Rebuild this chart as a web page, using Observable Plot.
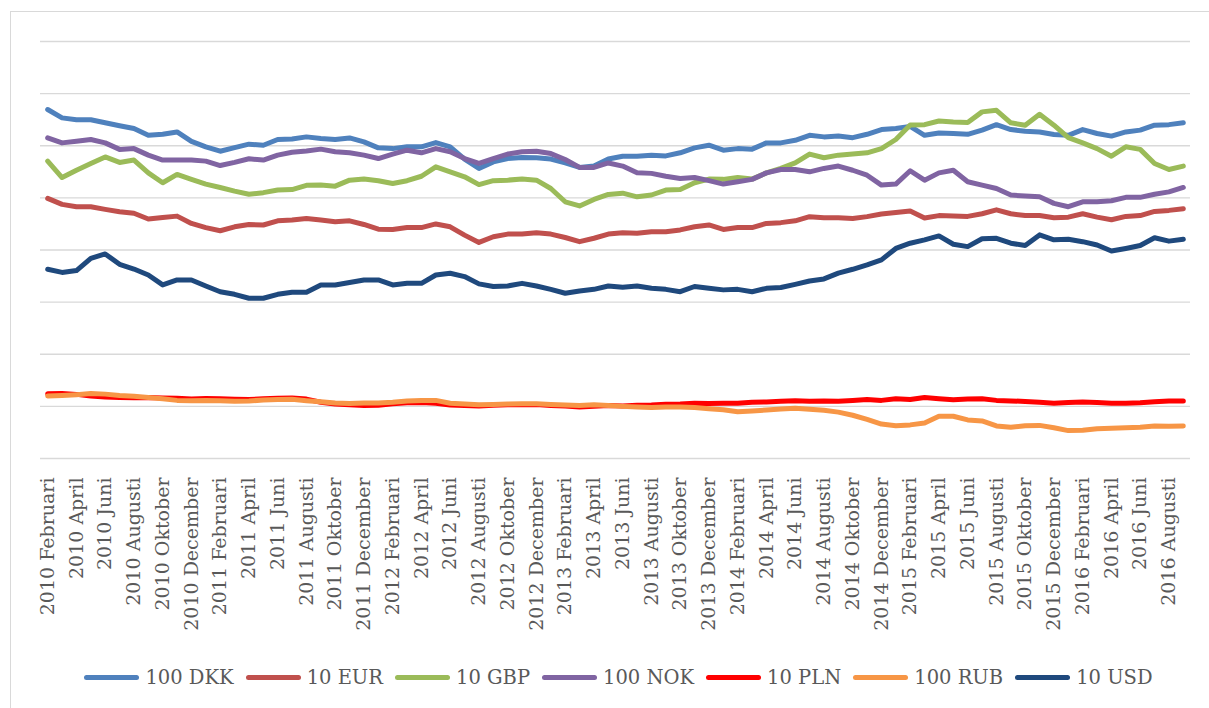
<!DOCTYPE html>
<html><head><meta charset="utf-8">
<script src="https://cdn.jsdelivr.net/npm/d3@7"></script>
<script src="https://cdn.jsdelivr.net/npm/@observablehq/plot@0.6"></script>
<style>
html,body{margin:0;padding:0;background:#fff;overflow:hidden;}
#wrap{position:relative;width:1209px;height:708px;overflow:hidden;}
#frame{position:absolute;left:10px;top:11px;width:1400px;height:900px;border:1.3px solid #d9d9d9;box-sizing:border-box;}
#chart{position:absolute;left:0;top:0;}
#legend{position:absolute;left:0;top:662px;width:1209px;height:30px;display:flex;justify-content:center;align-items:center;font-family:"DejaVu Serif";font-size:19.5px;color:#595959;padding-left:40px;box-sizing:border-box;}
.item{display:flex;align-items:center;margin-right:12px;white-space:nowrap;}
.sw{width:55px;height:5px;border-radius:2.5px;margin-right:6px;}
</style></head><body>
<div id="wrap"><div id="frame"></div><div id="chart"></div><div id="legend"></div></div>
<script>
// Categories: monthly, 2010 Februari .. 2016 September
const monthNames = ["Januari","Februari","Mars","April","Maj","Juni","Juli","Augusti","September","Oktober","November","December"];
const months = [];
for (let k = 1; k <= 80; k++) months.push(`${2010 + Math.floor(k / 12)} ${monthNames[k % 12]}`);
const tickLabels = months.filter((d, i) => i % 2 === 0);
const yTicks = [0, 20, 40, 60, 80, 100, 120, 140, 160];

const seriesNames = ["100 DKK", "10 EUR", "10 GBP", "100 NOK", "10 PLN", "100 RUB", "10 USD"];
const seriesColors = ["#4F81BD", "#C0504D", "#9BBB59", "#8064A2", "#FF0000", "#F79646", "#1F497D"];

const dkk = [133.9,130.7,130.0,130.0,128.8,127.7,126.6,124.0,124.4,125.3,121.7,119.6,117.9,119.3,120.6,120.2,122.4,122.6,123.4,122.8,
  122.4,123.0,121.5,119.2,118.9,119.6,119.6,121.2,119.6,114.9,111.3,113.8,115.1,115.5,115.4,114.9,113.4,111.7,112.2,114.9,
  116.0,116.0,116.4,116.1,117.3,119.2,120.2,118.3,118.9,118.7,121.1,121.1,122.1,124.0,123.4,123.7,123.1,124.4,126.2,126.6,
  127.4,124.0,124.9,124.7,124.4,126.0,128.1,126.2,125.6,125.3,124.3,124.0,126.2,124.7,123.7,125.3,126.0,127.9,128.1,128.8];
const eur = [99.8,97.5,96.6,96.6,95.6,94.7,94.1,91.9,92.5,93.0,90.2,88.6,87.4,88.9,89.8,89.6,91.2,91.5,92.1,91.5,
  90.8,91.2,89.8,88.0,87.9,88.6,88.6,90.0,88.9,85.7,82.9,85.1,86.1,86.1,86.6,86.1,84.8,83.2,84.5,86.1,
  86.6,86.4,87.0,87.0,87.7,88.9,89.6,87.9,88.6,88.6,90.2,90.5,91.2,92.8,92.4,92.4,92.1,92.8,93.8,94.4,
  95.0,92.3,93.2,93.0,92.9,93.9,95.4,93.9,93.2,93.2,92.4,92.6,93.9,92.6,91.6,92.9,93.2,94.8,95.2,95.8];
const gbp = [114.1,107.8,110.6,113.2,115.7,113.6,114.5,109.6,105.8,109.0,107.1,105.3,104.0,102.6,101.4,102.0,103.0,103.2,104.8,104.9,
  104.5,106.8,107.2,106.6,105.5,106.6,108.3,111.9,110.0,108.1,105.1,106.6,106.8,107.2,106.8,103.6,98.5,96.9,99.4,101.3,
  101.8,100.4,101.1,103.0,103.2,105.8,107.2,107.1,107.8,107.2,109.6,111.3,113.4,116.8,115.4,116.4,116.8,117.3,118.9,122.4,
  128.0,128.1,129.5,129.1,128.9,133.0,133.6,128.8,127.9,132.1,127.9,123.1,121.1,118.9,116.0,119.6,118.6,113.2,110.9,112.2];
const nok = [123.0,121.1,121.7,122.4,121.1,118.6,118.9,116.4,114.5,114.5,114.5,114.1,112.4,113.6,115.0,114.5,116.4,117.5,118.0,118.7,
  117.7,117.3,116.4,115.1,116.8,118.3,117.3,118.9,117.7,115.1,113.2,115.1,116.8,117.7,117.9,117.0,114.7,111.7,111.7,113.4,
  112.2,109.6,109.4,108.3,107.4,107.8,106.6,105.3,106.2,107.1,109.6,110.9,110.9,110.0,111.3,112.2,110.6,108.7,104.9,105.3,
  110.4,106.8,109.6,110.6,106.2,104.9,103.6,101.1,100.7,100.4,97.9,96.6,98.5,98.5,98.9,100.2,100.2,101.4,102.3,104.0];
const pln = [24.8,24.9,24.6,24.0,23.6,23.4,23.3,23.4,23.2,23.1,22.8,23.0,22.9,22.7,22.6,22.9,23.1,23.2,22.8,21.6,
  20.9,20.6,20.3,20.4,21.0,21.4,21.5,21.2,20.5,20.3,20.1,20.4,20.6,20.6,20.7,20.3,20.1,19.8,20.0,20.3,
  20.1,20.4,20.5,20.8,20.9,21.2,21.1,21.2,21.2,21.6,21.7,22.0,22.2,22.0,22.1,22.0,22.3,22.6,22.3,22.9,
  22.6,23.4,22.9,22.5,22.8,22.9,22.3,22.1,21.9,21.6,21.2,21.5,21.7,21.5,21.2,21.2,21.4,21.8,22.1,22.1];
const rub = [24.0,24.2,24.5,24.9,24.7,24.2,23.9,23.4,22.9,22.3,22.2,22.3,22.2,22.0,22.1,22.4,22.6,22.7,22.2,21.8,
  21.3,21.1,21.3,21.3,21.6,22.1,22.3,22.3,21.2,20.9,20.6,20.7,20.9,21.0,21.0,20.7,20.5,20.3,20.6,20.3,
  20.0,19.8,19.6,19.8,19.8,19.6,19.1,18.7,17.9,18.2,18.6,19.0,19.3,18.9,18.5,17.8,16.6,15.0,13.2,12.6,
  12.9,13.6,16.2,16.2,14.8,14.4,12.5,12.0,12.6,12.7,11.8,10.7,10.8,11.4,11.6,11.8,12.0,12.5,12.4,12.5];
const usd = [72.6,71.4,72.1,76.8,78.5,74.5,72.7,70.4,66.6,68.5,68.5,66.2,64.0,63.0,61.5,61.5,63.0,63.8,63.8,66.6,
  66.6,67.5,68.5,68.5,66.6,67.2,67.2,70.4,71.1,69.8,67.0,66.0,66.2,67.2,66.2,64.9,63.4,64.3,64.9,66.2,
  65.7,66.2,65.3,64.9,64.0,66.0,65.3,64.7,64.9,64.0,65.3,65.6,66.8,68.1,68.9,71.1,72.6,74.3,76.2,80.6,
  82.6,83.9,85.4,82.2,81.3,84.3,84.5,82.6,81.7,85.8,83.9,84.1,83.2,81.9,79.6,80.6,81.7,84.7,83.4,84.1];

const seriesValues = [dkk, eur, gbp, nok, pln, rub, usd];
const rows = [];
seriesNames.forEach((name, s) => {
  seriesValues[s].forEach((v, i) => rows.push({series: name, month: months[i], value: v}));
});

const chart = Plot.plot({
  width: 1209,
  height: 655,
  marginLeft: 40,
  marginRight: 19,
  marginTop: 41,
  marginBottom: 197,
  style: {background: "transparent", fontFamily: "DejaVu Serif", color: "#595959"},
  x: {type: "point", domain: months, padding: 0.5, round: false},
  y: {domain: [0, 160], axis: null},
  marks: [
    Plot.gridY(yTicks, {stroke: "#d9d9d9", strokeOpacity: 1, strokeWidth: 1.3}),
    Plot.axisX(tickLabels, {tickSize: 0, tickPadding: 19, tickRotate: -90, fontSize: 19, fill: "#595959", label: null}),
    ...seriesNames.map((name, s) => Plot.lineY(rows.filter(r => r.series === name), {
      x: "month", y: "value", stroke: seriesColors[s], strokeWidth: 5,
      strokeLinejoin: "round", strokeLinecap: "round"
    }))
  ]
});
document.getElementById("chart").appendChild(chart);

const legend = document.getElementById("legend");
seriesNames.forEach((name, s) => {
  const item = document.createElement("div");
  item.className = "item";
  const sw = document.createElement("div");
  sw.className = "sw";
  sw.style.background = seriesColors[s];
  const label = document.createElement("span");
  label.textContent = name;
  item.appendChild(sw);
  item.appendChild(label);
  legend.appendChild(item);
});
</script>
</body></html>
